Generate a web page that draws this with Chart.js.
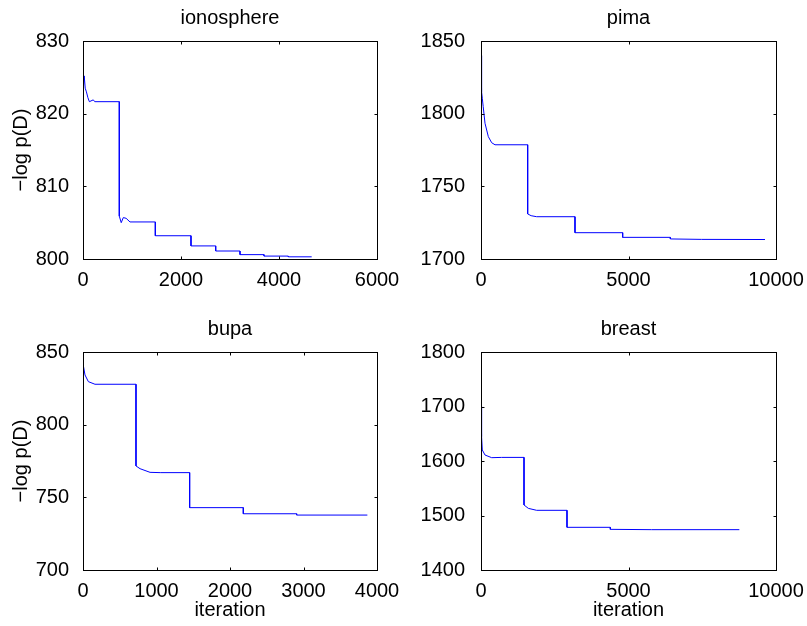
<!DOCTYPE html>
<html>
<head>
<meta charset="utf-8">
<script src="https://cdn.jsdelivr.net/npm/chart.js@4/dist/chart.umd.min.js"></script>
<style>
  html, body { margin: 0; padding: 0; background: #fff; }
  #fig { position: relative; width: 807px; height: 626px; }
  #fig canvas { position: absolute; }
</style>
</head>
<body>
<div id="fig">
  <canvas id="c1" width="403" height="311" style="left:0;top:0"></canvas>
  <canvas id="c2" width="404" height="311" style="left:403px;top:0"></canvas>
  <canvas id="c3" width="403" height="315" style="left:0;top:311px"></canvas>
  <canvas id="c4" width="404" height="315" style="left:403px;top:311px"></canvas>
</div>
<script>
// ionosphere
const ionoX = [0, 10, 25, 45, 70, 100, 130, 210, 240, 741, 741, 780, 823, 880, 959, 1476, 1476, 2204, 2204, 2708, 2708, 3204, 3204, 3694, 3694, 4190, 4190, 4667];
const ionoY = [825.5, 823.8, 825.2, 823.5, 823.0, 822.2, 821.65, 821.9, 821.65, 821.65, 805.9, 805.0, 805.7, 805.6, 805.1, 805.1, 803.2, 803.2, 801.8, 801.8, 801.1, 801.1, 800.6, 800.6, 800.4, 800.4, 800.3, 800.3];
const ionoXTicks = [0, 2000, 4000, 6000];
const ionoYTicks = [800, 810, 820, 830];

// pima
const pimaX = [0, 20, 44, 75, 136, 248, 362, 475, 1582, 1582, 1700, 1887, 3186, 3186, 4802, 4802, 6418, 6418, 7480, 9627];
const pimaY = [1840, 1815, 1810.6, 1804.8, 1793.4, 1784.2, 1780, 1778.6, 1778.6, 1731, 1729.8, 1729.1, 1729.1, 1718.1, 1718.1, 1714.9, 1714.9, 1713.8, 1713.5, 1713.4];
const pimaXTicks = [0, 5000, 10000];
const pimaYTicks = [1700, 1750, 1800, 1850];

// bupa
const bupaX = [0, 27, 73, 163, 721, 721, 776, 912, 1050, 1451, 1451, 2181, 2181, 2907, 2907, 3869];
const bupaY = [842, 834.2, 829.6, 827.8, 827.8, 771.6, 769.7, 767.2, 767, 767, 742.9, 742.9, 738.7, 738.7, 737.8, 737.8];
const bupaXTicks = [0, 1000, 2000, 3000, 4000];
const bupaYTicks = [700, 750, 800, 850];

// breast
const breastX = [0, 20, 44, 136, 362, 700, 1458, 1458, 1605, 1887, 2915, 2915, 4384, 4384, 5785, 8757];
const breastY = [1700, 1644.6, 1620.2, 1611, 1606.1, 1606.6, 1606.6, 1519.3, 1513.1, 1509.5, 1509.5, 1478.3, 1478.3, 1474.6, 1474, 1474];
const breastXTicks = [0, 5000, 10000];
const breastYTicks = [1400, 1500, 1600, 1700, 1800];

const yLabel = '\u2212log p(D)';
const xLabel = 'iteration';

Chart.defaults.font.family = '"Liberation Sans", Arial, Helvetica, sans-serif';
Chart.defaults.font.size = 20;
Chart.defaults.color = '#000';

// matlab-style box with inward ticks on all four sides
const boxTicks = {
    id: 'boxTicks',
    afterDraw(chart) {
        const { ctx, chartArea: a, scales } = chart;
        const L = Math.round(a.left) + 0.5, R = Math.round(a.right) + 0.5;
        const T = Math.round(a.top) + 0.5, B = Math.round(a.bottom) + 0.5;
        ctx.save();
        ctx.strokeStyle = '#000';
        ctx.lineWidth = 1;
        ctx.beginPath();
        scales.x.ticks.forEach(t => {
            const p = Math.round(scales.x.getPixelForValue(t.value)) + 0.5;
            ctx.moveTo(p, B); ctx.lineTo(p, B - 3);
            ctx.moveTo(p, T); ctx.lineTo(p, T + 3);
        });
        scales.y.ticks.forEach(t => {
            const p = Math.round(scales.y.getPixelForValue(t.value)) + 0.5;
            ctx.moveTo(L, p); ctx.lineTo(L + 3, p);
            ctx.moveTo(R, p); ctx.lineTo(R - 3, p);
        });
        ctx.stroke();
        ctx.strokeRect(L, T, R - L, B - T);
        ctx.restore();
    }
};

function makePanel(id, title, xs, ys, xTicks, yTicks, opts) {
    const ctx = document.getElementById(id);
    if (!ctx) return;
    return new Chart(ctx, {
        type: 'line',
        data: {
            datasets: [{
                data: xs.map((x, i) => ({ x: x, y: ys[i] })),
                borderColor: '#0000ff',
                borderWidth: 1,
                pointRadius: 0,
                tension: 0,
                fill: false
            }]
        },
        options: {
            responsive: false,
            animation: false,
            layout: { padding: { left: 0, right: opts.right, top: 0, bottom: 0 } },
            plugins: {
                legend: { display: false },
                tooltip: { enabled: false },
                title: {
                    display: true,
                    text: title,
                    fullSize: false,
                    color: '#000',
                    font: { size: 20, weight: 'normal' },
                    padding: { top: 6.4, bottom: 10.6 }
                }
            },
            scales: {
                x: {
                    type: 'linear',
                    min: xTicks[0],
                    max: xTicks[xTicks.length - 1],
                    grid: { display: false },
                    border: { display: false },
                    ticks: { autoSkip: false, maxRotation: 0, padding: 1, callback: v => String(v) },
                    afterBuildTicks: s => { s.ticks = xTicks.map(v => ({ value: v })); },
                    afterFit: s => { s.height = opts.xh; },
                    title: {
                        display: opts.xTitle,
                        text: xLabel,
                        font: { size: 20 },
                        padding: { top: 0, bottom: 4 }
                    }
                },
                y: {
                    min: yTicks[0],
                    max: yTicks[yTicks.length - 1],
                    grid: { display: false },
                    border: { display: false },
                    ticks: { padding: opts.yPad, callback: v => String(v) },
                    afterBuildTicks: s => { s.ticks = yTicks.map(v => ({ value: v })); },
                    afterFit: s => { s.width = opts.yw; },
                    title: {
                        display: opts.yTitle,
                        text: yLabel,
                        font: { size: 20 },
                        padding: { top: 9, bottom: 0 }
                    }
                }
            }
        },
        plugins: [boxTicks]
    });
}

makePanel('c1', 'ionosphere', ionoX, ionoY, ionoXTicks, ionoYTicks,
    { right: 26, xh: 52, yw: 83, yPad: 6, xTitle: false, yTitle: true });
makePanel('c2', 'pima', pimaX, pimaY, pimaXTicks, pimaYTicks,
    { right: 31, xh: 52, yw: 78, yPad: 8, xTitle: false, yTitle: false });
makePanel('c3', 'bupa', bupaX, bupaY, bupaXTicks, bupaYTicks,
    { right: 26, xh: 56, yw: 83, yPad: 6, xTitle: true, yTitle: true });
makePanel('c4', 'breast', breastX, breastY, breastXTicks, breastYTicks,
    { right: 31, xh: 56, yw: 78, yPad: 8, xTitle: true, yTitle: false });
</script>
</body>
</html>
